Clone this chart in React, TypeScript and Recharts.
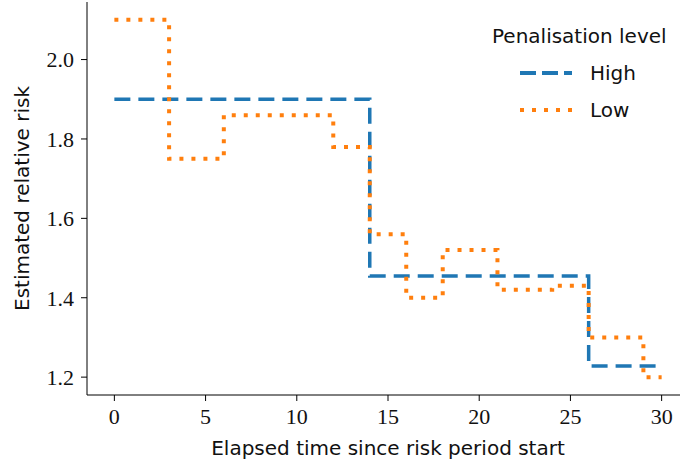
import React from 'react';
import { LineChart, Line, XAxis, YAxis } from 'recharts';

// step breakpoints (stepAfter)
const highTime = [0, 14, 26, 30];
const highRisk = [1.9, 1.455, 1.228, 1.228];
const lowTime = [0, 3, 6, 12, 14, 16, 18, 21, 24, 26, 29, 30];
const lowRisk = [2.1, 1.75, 1.86, 1.78, 1.56, 1.4, 1.52, 1.42, 1.43, 1.3, 1.2, 1.2];

const xTicks = [0, 5, 10, 15, 20, 25, 30];
const yTicks = [1.2, 1.4, 1.6, 1.8, 2.0];

const BLUE = '#1f77b4';
const ORANGE = '#ff7f0e';
const SANS = '"DejaVu Sans", sans-serif';
const SERIF = '"Liberation Serif", "DejaVu Serif", serif';

const highData = highTime.map((t, i) => ({ t, risk: highRisk[i] }));
const lowData = lowTime.map((t, i) => ({ t, risk: lowRisk[i] }));

const legendItems = [
  { name: 'High', color: BLUE, dash: '16 6' },
  { name: 'Low', color: ORANGE, dash: '4 8' },
];

const LegendBox = () => (
  <div style={{ position: 'absolute', left: 492, top: 22, fontFamily: SANS, fontSize: 20, color: '#111', lineHeight: '28px' }}>
    <div style={{ marginBottom: 4 }}>Penalisation level</div>
    {legendItems.map((s) => (
      <div key={s.name} style={{ display: 'flex', alignItems: 'center', height: 37, marginLeft: 26 }}>
        <svg width={60} height={10}>
          <line x1={2} y1={5} x2={54} y2={5} stroke={s.color} strokeWidth={4} strokeDasharray={s.dash} />
        </svg>
        <span style={{ marginLeft: 12 }}>{s.name}</span>
      </div>
    ))}
  </div>
);

export default function App() {
  return (
    <div style={{ position: 'absolute', left: 0, top: 0, width: 680, height: 464, overflow: 'hidden', background: '#fff' }}>
      <LineChart width={689} height={464} margin={{ top: 2, right: 0, bottom: 0, left: 0 }}>
        <XAxis
          type="number"
          dataKey="t"
          domain={[-1.5, 31.5]}
          ticks={xTicks}
          allowDataOverflow
          height={69}
          tickSize={6}
          tickMargin={7}
          stroke="#000"
          tick={{ fill: '#111', fontFamily: SERIF, fontSize: 22 }}
          label={{ value: 'Elapsed time since risk period start', position: 'insideBottom', offset: 9, fill: '#111', fontFamily: SANS, fontSize: 20 }}
        />
        <YAxis
          type="number"
          domain={[1.155, 2.145]}
          ticks={yTicks}
          allowDataOverflow
          width={87}
          tickSize={6}
          tickMargin={7}
          stroke="#000"
          tickFormatter={(v: number) => v.toFixed(1)}
          tick={{ fill: '#111', fontFamily: SERIF, fontSize: 22 }}
          label={{ value: 'Estimated relative risk', angle: -90, position: 'insideLeft', offset: 22, style: { textAnchor: 'middle' }, fill: '#111', fontFamily: SANS, fontSize: 20 }}
        />
        <Line data={highData} dataKey="risk" type="stepAfter" stroke={BLUE} strokeWidth={3.5} strokeDasharray="16 8" dot={false} activeDot={false} isAnimationActive={false} />
        <Line data={lowData} dataKey="risk" type="stepAfter" stroke={ORANGE} strokeWidth={4} strokeDasharray="4 8" dot={false} activeDot={false} isAnimationActive={false} />
      </LineChart>
      <LegendBox />
    </div>
  );
}
